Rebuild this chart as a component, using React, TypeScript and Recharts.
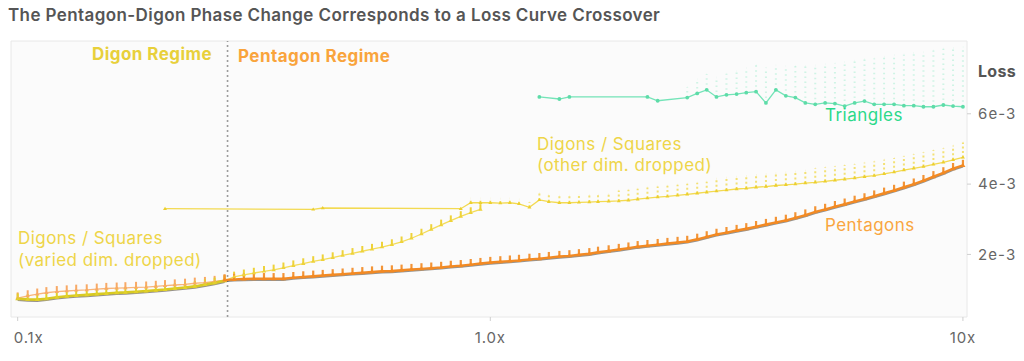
import React from 'react';
import {
  LineChart, Line, XAxis, YAxis, ErrorBar, ReferenceLine, ReferenceArea,
} from 'recharts';

// ---- data (loss values in units of 1e-3) ----
const scales: number[] = [
  0.1, 0.105, 0.11, 0.115, 0.121, 0.127, 0.133, 0.14, 0.147, 0.154, 0.162, 0.169,
  0.178, 0.187, 0.196, 0.205, 0.215, 0.226, 0.237, 0.249, 0.261, 0.274, 0.287, 0.301,
  0.316, 0.332, 0.348, 0.365, 0.383, 0.402, 0.422, 0.442, 0.464, 0.487, 0.511, 0.536,
  0.562, 0.59, 0.619, 0.649, 0.681, 0.715, 0.75, 0.787, 0.825, 0.866, 0.909, 0.953,
  1.0, 1.05, 1.1, 1.15, 1.21, 1.27, 1.33, 1.4, 1.47, 1.54, 1.62, 1.69,
  1.78, 1.87, 1.96, 2.05, 2.15, 2.26, 2.37, 2.49, 2.61, 2.74, 2.87, 3.01,
  3.16, 3.32, 3.48, 3.65, 3.83, 4.02, 4.22, 4.42, 4.64, 4.87, 5.11, 5.36,
  5.62, 5.9, 6.19, 6.49, 6.81, 7.15, 7.5, 7.87, 8.25, 8.66, 9.09, 9.53,
  10.0,
];

const pentagons: (number | null)[] = [
  0.76, 0.82, 0.87, 0.91, 0.94, 0.96, 0.98, 0.99, 1.01, 1.03, 1.04, 1.05,
  1.06, 1.07, 1.09, 1.11, 1.13, 1.15, 1.18, 1.2, 1.23, 1.27, 1.29, 1.3,
  1.31, 1.31, 1.31, 1.31, 1.34, 1.36, 1.38, 1.4, 1.42, 1.44, 1.46, 1.48,
  1.5, 1.52, 1.53, 1.55, 1.57, 1.59, 1.61, 1.63, 1.66, 1.68, 1.71, 1.74,
  1.77, 1.79, 1.81, 1.83, 1.86, 1.88, 1.91, 1.94, 1.96, 1.99, 2.02, 2.06,
  2.1, 2.14, 2.18, 2.22, 2.25, 2.28, 2.31, 2.34, 2.37, 2.43, 2.5, 2.57,
  2.62, 2.68, 2.73, 2.79, 2.85, 2.91, 2.97, 3.04, 3.12, 3.21, 3.28, 3.36,
  3.43, 3.51, 3.58, 3.66, 3.74, 3.82, 3.91, 4.0, 4.1, 4.21, 4.32, 4.44,
  4.53,
];

const n = null;
const digonsVaried: (number | null)[] = [
  0.74, 0.72, 0.715, 0.74, 0.78, 0.81, 0.83, 0.85, 0.87, 0.89, 0.91, 0.92,
  0.94, 0.96, 0.98, 1.0, 1.03, 1.06, 1.09, 1.14, 1.19, 1.25, 1.36, 1.42,
  1.47, 1.52, 1.56, 1.62, 1.68, 1.74, 1.8, 1.85, 1.91, 1.97, 2.03, 2.09,
  2.15, 2.21, 2.28, 2.36, 2.46, 2.58, 2.71, 2.84, 2.96, 3.08, 3.19, 3.28,
  n, n, n, n, n, n, n, n, n, n, n, n,
  n, n, n, n, n, n, n, n, n, n, n, n,
  n, n, n, n, n, n, n, n, n, n, n, n,
  n, n, n, n, n, n, n, n, n, n, n, n,
  n,
];

const digonsOther: (number | null)[] = [
  n, n, n, n, n, n, n, n, n, n, n, n,
  n, n, n, 3.3, n, n, n, n, n, n, n, n,
  n, n, n, n, n, n, 3.28, 3.32, n, n, n, n,
  n, n, n, n, n, n, n, n, n, 3.3, 3.47, 3.47,
  3.47, 3.46, 3.47, 3.44, 3.34, 3.55, 3.5, 3.47, 3.47, 3.48, 3.49, 3.5,
  3.51, 3.52, 3.54, 3.57, 3.6, 3.63, 3.65, 3.68, 3.71, 3.74, 3.77, 3.8,
  3.83, 3.86, 3.88, 3.91, 3.93, 3.96, 3.98, 4.0, 4.03, 4.05, 4.08, 4.11,
  4.14, 4.17, 4.21, 4.24, 4.29, 4.34, 4.4, 4.45, 4.5, 4.56, 4.62, 4.69,
  4.76,
];

const digonsOtherSpread: (number | null)[] = [
  n, n, n, n, n, n, n, n, n, n, n, n,
  n, n, n, n, n, n, n, n, n, n, n, n,
  n, n, n, n, n, n, n, n, n, n, n, n,
  n, n, n, n, n, n, n, n, n, n, 0.12, 0.12,
  0.12, 0.12, 0.12, 0.12, 0.15, 0.2, 0.2, 0.2, 0.2, 0.2, 0.2, 0.2,
  0.2, 0.3, 0.3, 0.3, 0.3, 0.3, 0.3, 0.3, 0.3, 0.3, 0.3, 0.35,
  0.35, 0.35, 0.35, 0.35, 0.35, 0.35, 0.35, 0.35, 0.35, 0.4, 0.4, 0.4,
  0.4, 0.4, 0.4, 0.4, 0.4, 0.4, 0.4, 0.4, 0.4, 0.4, 0.4, 0.4,
  0.42,
];

const triangles: (number | null)[] = [
  n, n, n, n, n, n, n, n, n, n, n, n,
  n, n, n, n, n, n, n, n, n, n, n, n,
  n, n, n, n, n, n, n, n, n, n, n, n,
  n, n, n, n, n, n, n, n, n, n, n, n,
  n, n, n, n, n, 6.48, n, 6.42, 6.48, n, n, n,
  n, n, n, n, 6.48, 6.37, n, n, 6.46, 6.58, 6.68, 6.48,
  6.54, 6.56, 6.6, 6.63, 6.31, 6.68, 6.51, 6.46, 6.31, 6.27, 6.31, 6.29,
  6.22, 6.31, 6.36, 6.27, 6.27, 6.27, 6.23, 6.23, 6.2, 6.2, 6.25, 6.22,
  6.2,
];

const trianglesSpread: (number | null)[] = [
  n, n, n, n, n, n, n, n, n, n, n, n,
  n, n, n, n, n, n, n, n, n, n, n, n,
  n, n, n, n, n, n, n, n, n, n, n, n,
  n, n, n, n, n, n, n, n, n, n, n, n,
  n, n, n, n, n, n, n, n, n, n, n, n,
  n, n, n, n, n, n, n, n, 0.3, 0.4, 0.45, 0.55,
  0.6, 0.65, 0.7, 0.75, 1.0, 0.7, 0.85, 0.9, 1.05, 1.1, 1.1, 1.15,
  1.25, 1.2, 1.2, 1.3, 1.35, 1.4, 1.45, 1.5, 1.55, 1.6, 1.6, 1.65,
  1.7,
];

const PENT_TICK = 0.16;
const VARIED_TICK = 0.15;
const REGIME_BOUNDARY = 0.278;
const SPLIT_INDEX = 21;

const xTicks = [0.1, 1, 10];
const xTickLabels = ['0.1x', '1.0x', '10x'];
const yTicks = [2, 4, 6];
const yTickLabels = ['2e-3', '4e-3', '6e-3'];
const X_DOMAIN: [number, number] = [0.0968, 10.2];
const Y_DOMAIN: [number, number] = [0.22, 8.07];

const rows = scales.map((x, i) => {
  const p = pentagons[i];
  const v = digonsVaried[i];
  const o = digonsOther[i];
  const t = triangles[i];
  return {
    x,
    pentEarly: i <= SPLIT_INDEX ? p : null,
    pentLate: i >= SPLIT_INDEX ? p : null,
    pentErr: p == null ? null : [0, PENT_TICK],
    variedEarly: i <= SPLIT_INDEX ? v : null,
    variedLate: i >= SPLIT_INDEX ? v : null,
    variedErr: v == null ? null : [0, VARIED_TICK],
    other: o,
    otherErr: digonsOtherSpread[i] == null ? null : [0, digonsOtherSpread[i]],
    tri: t,
    triErr: trianglesSpread[i] == null ? null : [0, trianglesSpread[i]],
  };
});

const makeTri = (color: string, s = 2.4) => (props: any) => {
  const { cx, cy, index } = props;
  if (cx == null || cy == null || isNaN(cy)) return <g key={`e${index}`} />;
  return (
    <path
      key={`t${index}`}
      d={`M${cx - s},${cy + s * 0.6} L${cx + s},${cy + s * 0.6} L${cx},${cy - s} Z`}
      fill={color}
    />
  );
};

const makeCircle = (color: string, r = 1.9) => (props: any) => {
  const { cx, cy, index } = props;
  if (cx == null || cy == null || isNaN(cy)) return <g key={`e${index}`} />;
  return <circle key={`c${index}`} cx={cx} cy={cy} r={r} fill={color} />;
};

const FONT = 'Inter, "Noto Sans", sans-serif';

const XTick = (props: any) => {
  const { x, y, payload, index } = props;
  const first = index === 0;
  return (
    <text
      x={first ? x - 4 : x} y={y} dy="0.71em" textAnchor={first ? 'start' : 'middle'}
      fill="#666" fontSize={15} letterSpacing={0.9} fontFamily={FONT}
    >
      {xTickLabels[xTicks.indexOf(payload.value)] ?? ''}
    </text>
  );
};

const YTick = (props: any) => {
  const { x, y, payload } = props;
  return (
    <text x={x} y={y} dy="0.36em" textAnchor="start" fill="#666" fontSize={15} letterSpacing={1.1} fontFamily={FONT}>
      {yTickLabels[yTicks.indexOf(payload.value)] ?? ''}
    </text>
  );
};

const Txt = ({ left, cy, size, color, weight = 400, spacing = 0.45, children }: any) => (
  <div
    style={{
      position: 'absolute', left, top: cy - size * 0.62, fontSize: size, lineHeight: `${size * 1.2}px`,
      color, fontWeight: weight, whiteSpace: 'nowrap', fontFamily: FONT, letterSpacing: spacing,
    }}
  >
    {children}
  </div>
);

export default function App() {
  return (
    <div style={{ position: 'absolute', left: 0, top: 0, width: 1024, height: 361, background: '#fff', fontFamily: FONT }}>
      <style>{`
        .shadowed .recharts-line-curve { filter: drop-shadow(0px 1px 0.6px rgba(70,60,50,0.55)); }
      `}</style>
      <LineChart width={1024} height={361} data={rows} margin={{ top: 41, right: 7, bottom: 14, left: 11 }}>
        <XAxis
          dataKey="x" type="number" scale="log" domain={X_DOMAIN} allowDataOverflow
          ticks={xTicks} axisLine={false} tickLine={{ stroke: '#cfcfcf' }} tickSize={4} tickMargin={11} height={30}
          tick={<XTick />} interval={0}
        />
        <YAxis
          orientation="right" type="number" domain={Y_DOMAIN} allowDataOverflow ticks={yTicks}
          axisLine={false} tickLine={{ stroke: '#cfcfcf' }} tickSize={4} tickMargin={7} width={50}
          tick={<YTick />}
        />
        <ReferenceArea x1={X_DOMAIN[0]} x2={X_DOMAIN[1]} y1={Y_DOMAIN[0]} y2={Y_DOMAIN[1]} fill="#fbfbfb" fillOpacity={1} stroke="#e8e8e8" strokeWidth={1} />
        <ReferenceLine x={REGIME_BOUNDARY} stroke="#9c9c9c" strokeDasharray="2 3" strokeWidth={1.6} />

        <Line dataKey="tri" stroke="#74e4b8" strokeWidth={1.3} connectNulls isAnimationActive={false} dot={makeCircle('#5ddca8')} activeDot={false}>
          <ErrorBar dataKey="triErr" direction="y" width={0} stroke="#8eecc6" strokeOpacity={0.4} strokeWidth={2} strokeDasharray="1.5 3.5" />
        </Line>
        <Line dataKey="other" stroke="#f3da52" strokeWidth={1.3} connectNulls isAnimationActive={false} dot={makeTri('#eccf2e', 2)} activeDot={false}>
          <ErrorBar dataKey="otherErr" direction="y" width={0} stroke="#f0d53c" strokeOpacity={0.7} strokeWidth={2} strokeDasharray="2 2.5" />
        </Line>
        <Line dataKey="variedLate" stroke="#f3dc5a" strokeWidth={1.3} isAnimationActive={false} dot={makeTri('#eed239', 2.2)} activeDot={false}>
          <ErrorBar dataKey="variedErr" direction="y" width={0} stroke="#eed239" strokeWidth={2} />
        </Line>
        <Line dataKey="pentEarly" stroke="#f8b57a" strokeWidth={1.3} isAnimationActive={false} dot={makeTri('#f8a965', 2.2)} activeDot={false}>
          <ErrorBar dataKey="pentErr" direction="y" width={0} stroke="#f8a965" strokeWidth={2} />
        </Line>
        <Line className="shadowed" dataKey="variedEarly" stroke="#d8ca22" strokeWidth={2.6} isAnimationActive={false} dot={makeTri('#e2d12a', 2.4)} activeDot={false}>
          <ErrorBar dataKey="variedErr" direction="y" width={0} stroke="#e2d12a" strokeWidth={2} />
        </Line>
        <Line className="shadowed" dataKey="pentLate" stroke="#f28a24" strokeWidth={2.4} isAnimationActive={false} dot={makeTri('#f28a24', 2.5)} activeDot={false}>
          <ErrorBar dataKey="pentErr" direction="y" width={0} stroke="#f39436" strokeWidth={2.2} />
        </Line>
      </LineChart>

      <Txt left={8} cy={16} size={17} color="#555" weight={600} spacing={0.4}>The Pentagon-Digon Phase Change Corresponds to a Loss Curve Crossover</Txt>
      <Txt left={92} cy={55} size={17} color="#e8d03a" weight={700}>Digon Regime</Txt>
      <Txt left={238} cy={57} size={17} color="#f9a43c" weight={700}>Pentagon Regime</Txt>
      <Txt left={18} cy={239} size={17} color="#eed548">Digons / Squares</Txt>
      <Txt left={18} cy={261} size={17} color="#eed548">(varied dim. dropped)</Txt>
      <Txt left={537} cy={145} size={17} color="#eed548">Digons / Squares</Txt>
      <Txt left={537} cy={166} size={17} color="#eed548">(other dim. dropped)</Txt>
      <Txt left={825} cy={116} size={17} color="#2bd98a">Triangles</Txt>
      <Txt left={825} cy={226} size={17} color="#f9a640">Pentagons</Txt>
      <Txt left={978} cy={72} size={16} color="#555" weight={700} spacing={0.3}>Loss</Txt>
    </div>
  );
}
